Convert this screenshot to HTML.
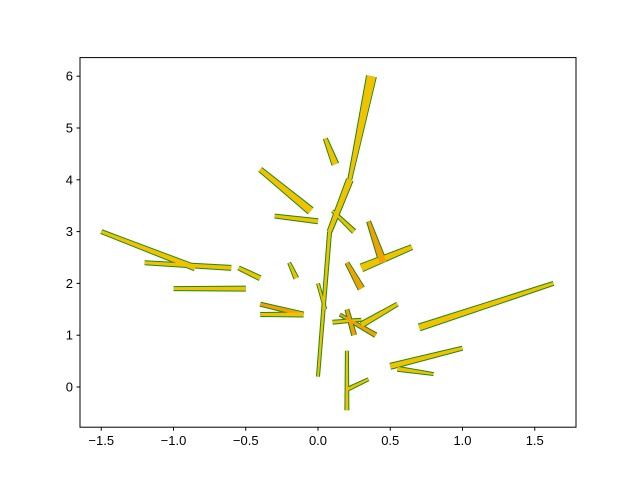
<!DOCTYPE html>
<html><head><meta charset="utf-8"><style>
html,body{margin:0;padding:0;background:#fff;}
svg text{font-family:"Liberation Sans","DejaVu Sans",sans-serif;font-size:13px;fill:#000;}
</style></head><body>
<svg id="chart" width="640" height="480">
<rect x="0" y="0" width="640" height="480" fill="#fff"/>
<g id="marks"></g>
<rect x="80" y="57.6" width="496" height="369.6" fill="none" stroke="#000" stroke-width="1"/>
<g id="axes"></g>
</svg>
<script>
// branch data (data coordinates)
const branchX1 = [0.00, 0.08, 0.22, 0.05, -0.40, -0.30, -1.50, -1.20, -1.00, -0.55, -0.40, -0.40, -0.20, 0.65, 0.35, 0.20, 1.63, 0.55, 0.20, 1.00, 0.80, 0.20, 0.35, 0.30, 0.10, 0.15, 0.00];
const branchY1 = [0.20, 3.00, 4.00, 4.80, 4.20, 3.30, 3.00, 2.40, 1.90, 2.30, 1.60, 1.40, 2.40, 2.70, 3.20, 2.40, 2.00, 1.60, 1.50, 0.75, 0.25, 0.70, 0.15, 1.30, 3.40, 1.40, 2.00];
const branchX2 = [0.08, 0.22, 0.37, 0.12, -0.05, 0.00, -0.85, -0.60, -0.50, -0.40, -0.10, -0.10, -0.15, 0.30, 0.45, 0.30, 0.70, 0.30, 0.25, 0.50, 0.55, 0.20, 0.20, 0.10, 0.25, 0.40, 0.05];
const branchY2 = [3.00, 4.00, 6.00, 4.30, 3.40, 3.20, 2.30, 2.30, 1.90, 2.10, 1.40, 1.40, 2.10, 2.30, 2.40, 1.90, 1.15, 1.20, 1.00, 0.40, 0.35, -0.45, -0.05, 1.25, 3.00, 1.00, 1.50];
const xTicks = [-1.5, -1.0, -0.5, 0.0, 0.5, 1.0, 1.5];
const yTicks = [0, 1, 2, 3, 4, 5, 6];

// styles (pixel widths, colors)
const wStart = [2,4,3,3,4,3,3,3,3,3,3,3,2,4,3,3,3,3,3,3,2,2,2,2,2,2,2];
const wEnd   = [3,6,9,6,7,4,5,4,4,4,4,4,4,7,7,6,6,5,4,5,4,3,3,3,4,4,2];
const colors = ['#f2c200','#f2c200','#f2c200','#f2c200','#f2c200','#f2c200','#f2c200','#f2c200','#f2c200','#f2c200','#f5a000','#f2c200','#f2c200','#f2c200','#f5a000','#f5a000','#f2c200','#f2c200','#f5a000','#f2c200','#f2c200','#f2c200','#f2c200','#f2c200','#f2c200','#f5a000','#f2c200'];

const X0=80,X1=576,Y0=57.6,Y1=427.2;
function sx(v){return 318 + v*144.5;}
function sy(v){return 387 - v*51.8;}
const NS='http://www.w3.org/2000/svg';
const marks=document.getElementById('marks');
const axes=document.getElementById('axes');

function taper(i,extra){
  const ax=sx(branchX1[i]), ay=sy(branchY1[i]), bx=sx(branchX2[i]), by=sy(branchY2[i]);
  const dx=bx-ax, dy=by-ay, L=Math.hypot(dx,dy)||1;
  const nx=-dy/L, ny=dx/L;
  const a=(wStart[i]+extra)/2, b=(wEnd[i]+extra)/2;
  return [[ax+nx*a,ay+ny*a],[bx+nx*b,by+ny*b],[bx-nx*b,by-ny*b],[ax-nx*a,ay-ny*a]].map(p=>p[0].toFixed(1)+','+p[1].toFixed(1)).join(' ');
}
for(let i=0;i<branchX1.length;i++){
  const g=document.createElementNS(NS,'polygon');
  g.setAttribute('points',taper(i,2));
  g.setAttribute('fill','#1a8a1a');
  
  
  marks.appendChild(g);
}
for(let i=0;i<branchX1.length;i++){
  const p=document.createElementNS(NS,'polygon');
  p.setAttribute('points',taper(i,0));
  p.setAttribute('fill',colors[i]);
  
  
  marks.appendChild(p);
}
xTicks.forEach(t=>{
  const x=sx(t);
  const l=document.createElementNS(NS,'line');
  l.setAttribute('x1',x);l.setAttribute('x2',x);l.setAttribute('y1',Y1);l.setAttribute('y2',Y1+3.5);
  l.setAttribute('stroke','#000');
  
  
  axes.appendChild(l);
  const tx=document.createElementNS(NS,'text');
  tx.setAttribute('x',x);tx.setAttribute('y',Y1+18);tx.setAttribute('text-anchor','middle');
  tx.textContent=t.toFixed(1).replace('-','\u2212');
  
  
  axes.appendChild(tx);
});
yTicks.forEach(t=>{
  const y=sy(t);
  const l=document.createElementNS(NS,'line');
  l.setAttribute('x1',X0-3.5);l.setAttribute('x2',X0);l.setAttribute('y1',y);l.setAttribute('y2',y);
  l.setAttribute('stroke','#000');
  
  
  axes.appendChild(l);
  const tx=document.createElementNS(NS,'text');
  tx.setAttribute('x',X0-7);tx.setAttribute('y',y+4.5);tx.setAttribute('text-anchor','end');
  tx.textContent=String(t);
  
  
  axes.appendChild(tx);
});
</script>
</body></html>
